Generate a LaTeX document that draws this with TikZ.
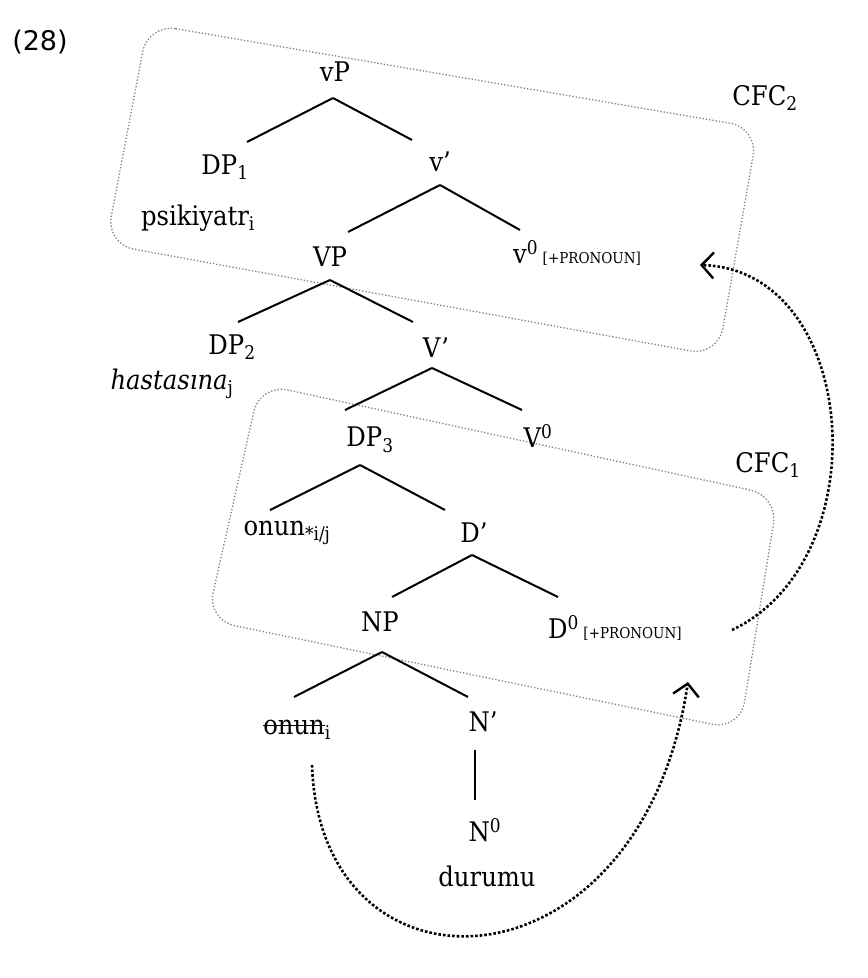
\documentclass[tikz,border=0pt]{standalone}
\usepackage{fontspec}
\setmainfont{DejaVu Serif Condensed}
\newfontfamily\lblfont{DejaVu Sans}
\usetikzlibrary{arrows.meta}
\tikzset{
 lab/.style={inner sep=1pt,font=\fontsize{27}{30}\selectfont},
 edge/.style={line width=2pt},
 box/.style={dotted,gray,line width=1.3pt,rounded corners=28pt},
 mv/.style={dotted,line width=2.6pt,-{Straight Barb[length=12pt,width=26pt,line width=2.4pt]}}
}
\newcommand{\sm}[1]{{\fontsize{15}{16}\selectfont #1}}
\newcommand{\stk}[1]{\setbox0\hbox{#1}\rlap{\rule[0.3em]{\wd0}{1.5pt}}\box0}
\begin{document}
\begin{tikzpicture}[x=1pt,y=-1pt]
\useasboundingbox (0,0) rectangle (868,978);
\draw[box] (148,24) -- (758,128) -- (718,356) -- (106,244) -- cycle;
\draw[box] (260,384) -- (778,496) -- (740,730) -- (207,620) -- cycle;
\node[font=\lblfont\fontsize{27}{30}\selectfont] (ex) at (40,42) {(28)};
\node[lab] (cfc2) at (765,98) {CFC\textsubscript{2}};
\node[lab] (cfc1) at (768,465) {CFC\textsubscript{1}};
\node[lab] (vP) at (335,72) {vP};
\node[lab] (DP1) at (225,167) {DP\textsubscript{1}};
\node[lab] (psi) at (198,218) {psikiyatr\textsubscript{i}};
\node[lab] (vb) at (440,162) {v'};
\node[lab] (VP) at (330,257) {VP};
\node[lab,anchor=west] (v0) at (512,253) {v\textsuperscript{0}\,\sm{[+PRONOUN]}};
\node[lab] (DP2) at (232,347) {DP\textsubscript{2}};
\node[lab] (has) at (172,384) {\itshape hastasına\textsubscript{\upshape j}};
\node[lab] (Vb) at (436,348) {V'};
\node[lab] (DP3) at (370,440) {DP\textsubscript{3}};
\node[lab] (V0) at (538,436) {V\textsuperscript{0}};
\node[lab] (on1) at (287,533) {onun\textsubscript{*i/j}};
\node[lab] (Db) at (474,533) {D'};
\node[lab] (NP) at (380,622) {NP};
\node[lab,anchor=west] (D0) at (547,628) {D\textsuperscript{0}\,\sm{[+PRONOUN]}};
\node[lab] (on2) at (297,730) {\stk{onun}\textsubscript{i}};
\node[lab] (Nb) at (483,722) {N'};
\node[lab] (N0) at (485,830) {N\textsuperscript{0}};
\node[lab] (dur) at (487,876) {durumu};
\coordinate (a) at (333,98); \draw[edge] (a) -- (247,142); \draw[edge] (a) -- (412,140);
\coordinate (b) at (440,185); \draw[edge] (b) -- (348,232); \draw[edge] (b) -- (520,230);
\coordinate (c) at (330,280); \draw[edge] (c) -- (238,322); \draw[edge] (c) -- (413,322);
\coordinate (d) at (432,368); \draw[edge] (d) -- (345,410); \draw[edge] (d) -- (522,410);
\coordinate (e) at (360,465); \draw[edge] (e) -- (270,510); \draw[edge] (e) -- (445,510);
\coordinate (f) at (472,555); \draw[edge] (f) -- (392,597); \draw[edge] (f) -- (558,597);
\coordinate (g) at (382,652); \draw[edge] (g) -- (294,697); \draw[edge] (g) -- (468,697);
\draw[edge] (475,750) -- (475,800);
\coordinate (s1) at (732,630); \coordinate (t1) at (700,265);
\draw[mv] (s1) .. controls (880,560) and (860,270) .. (t1);
\coordinate (s2) at (312,765); \coordinate (t2) at (688,682);
\draw[mv] (s2) .. controls (320,1010) and (640,1000) .. (t2);
\end{tikzpicture}
\end{document}
